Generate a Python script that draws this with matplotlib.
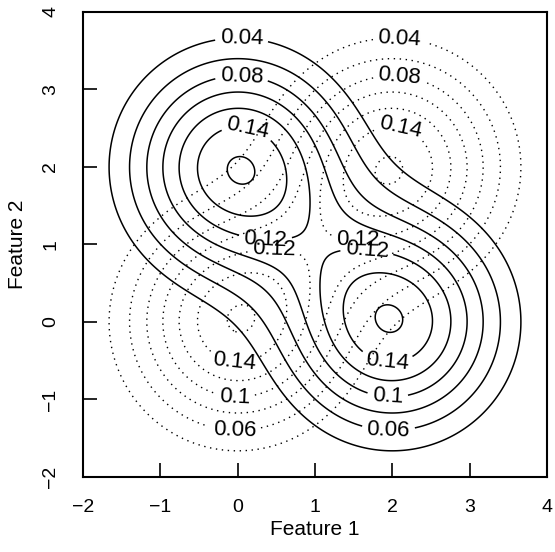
import matplotlib
matplotlib.use("Agg")
import matplotlib.pyplot as plt
import numpy as np

plt.rcParams['font.family'] = ['Liberation Sans', 'DejaVu Sans']

# two sums of unit isotropic gaussians
solid_means = [(0.0, 2.0), (2.0, 0.0)]
dotted_means = [(0.0, 0.0), (2.0, 2.0)]
sigma = 1.0
levels = [0.04, 0.06, 0.08, 0.10, 0.12, 0.14, 0.16]

xticks = [-2, -1, 0, 1, 2, 3, 4]
yticks = [-2, -1, 0, 1, 2, 3, 4]

# where the level labels sit (data coords)
solid_label_pos = [(0.05, 3.6), (0.05, 3.12), (0.1, 2.36), (0.36, 1.09),
                   (1.67, 0.90), (1.94, -0.41), (1.94, -0.95), (1.95, -1.38)]
dotted_label_pos = [(2.09, 3.61), (2.09, 3.12), (2.07, 2.36), (0.47, 0.90),
                    (1.55, 1.09), (-0.03, -0.41), (-0.04, -0.95), (-0.04, -1.38)]

gx = np.linspace(-2, 4, 400)
gy = np.linspace(-2, 4, 400)
X, Y = np.meshgrid(gx, gy)


def density(means):
    z = np.zeros_like(X)
    for mx, my in means:
        z += np.exp(-((X - mx) ** 2 + (Y - my) ** 2) / (2 * sigma ** 2)) / (2 * np.pi * sigma ** 2)
    return z


fig = plt.figure(figsize=(5.55, 5.52), dpi=100)
ax = fig.add_axes([0.1495, 0.1359, 0.8361, 0.8424])

fmt = lambda v: f"{v:g}"

cs1 = ax.contour(X, Y, density(solid_means), levels=levels, colors='black', linewidths=1.1)
cs1.set_linestyle('solid')
ax.clabel(cs1, levels=levels, fmt=fmt, fontsize=16, manual=solid_label_pos, inline=True, inline_spacing=5)

cs2 = ax.contour(X, Y, density(dotted_means), levels=levels, colors='black', linewidths=1.0)
cs2.set_linestyle((0, (1, 3.3)))
ax.clabel(cs2, levels=levels, fmt=fmt, fontsize=16, manual=dotted_label_pos, inline=True, inline_spacing=5)

ax.set_xlim(-2, 4)
ax.set_ylim(-2, 4)
ax.set_xticks(xticks)
ax.set_yticks(yticks)
ax.set_xticklabels([str(t).replace('-', '\u2212') for t in xticks])
ax.set_yticklabels([str(t).replace('-', '\u2212') for t in yticks], rotation=90, va='center')
ax.tick_params(direction='in', length=10, width=1.2, labelsize=14)
ax.tick_params(axis='x', pad=16)
ax.tick_params(axis='y', pad=17)
for s in ax.spines.values():
    s.set_linewidth(1.5)

ax.set_xlabel('Feature 1', fontsize=15, labelpad=2.5)
ax.set_ylabel('Feature 2', fontsize=15, labelpad=11)

fig.savefig('out.png', dpi=100)
